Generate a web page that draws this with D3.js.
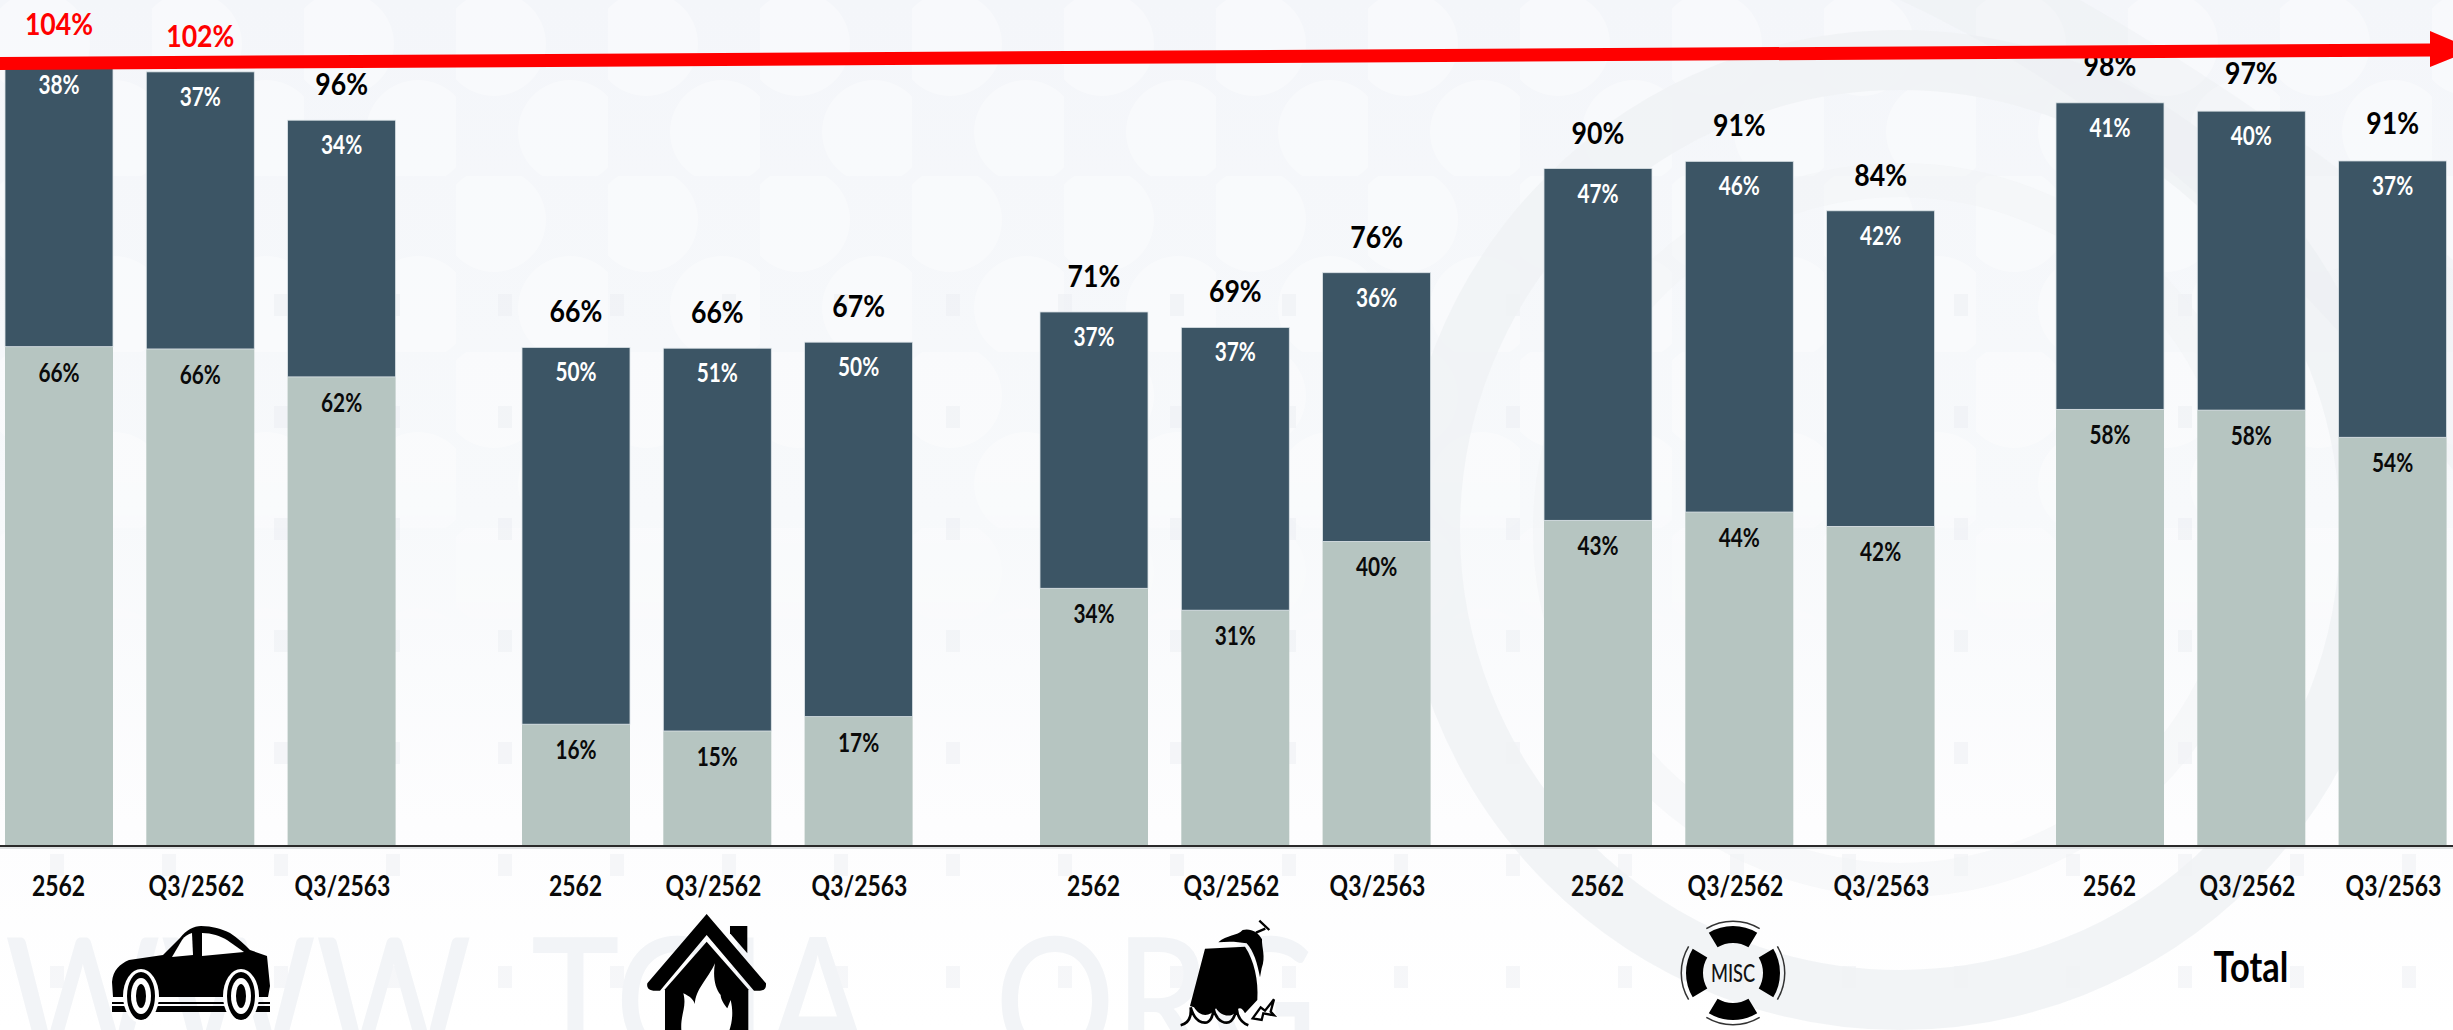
<!DOCTYPE html>
<html>
<head>
<meta charset="utf-8">
<script src="https://cdn.jsdelivr.net/npm/d3@7/dist/d3.min.js"></script>
<style>
html,body{margin:0;padding:0;background:#fff;overflow:hidden}
svg{display:block}
text{font-family:Lato,"Noto Sans",sans-serif}
</style>
</head>
<body>
<svg id="chart" width="2453" height="1030"></svg>
<script>
// Loss and expense ratios by line of business
const groups = ["Motor", "Fire", "Marine", "Misc", "Total"];
const periods = ["2562", "Q3/2562", "Q3/2563"];
const lossRatio = [66.0, 65.7, 62.0, 16.0, 15.1, 17.0, 34.0, 31.1, 40.2, 43.0, 44.1, 42.2, 57.7, 57.6, 54.0];
const expenseRatio = [38.0, 36.7, 34.0, 49.9, 50.7, 49.6, 36.6, 37.45, 35.6, 46.6, 46.45, 41.8, 40.6, 39.6, 36.6];
const totalLabel = "Total";
const watermarkWords = ["WWW", "TGIA", "ORG"];

const W = 2453, H = 1030, baseY = 845;
const svg = d3.select("#chart");
const defs = svg.append("defs");

const fmt = v => Math.round(v) + "%";
const y = d3.scaleLinear().domain([0, 100]).range([baseY, baseY - 755]);
const groupX = d3.scaleOrdinal().domain(groups).range([5, 522, 1040, 1544, 2056]);
const barW = 108, barStep = 141.3;

const rows = d3.range(lossRatio.length).map(i => {
  const g = groups[Math.floor(i / 3)], p = periods[i % 3];
  return { g, p, lower: lossRatio[i], upper: expenseRatio[i], total: lossRatio[i] + expenseRatio[i] };
});
const barLeft = d => groupX(d.g) + periods.indexOf(d.p) * barStep;

// --- backdrop ---------------------------------------------------------
const bgGrad = defs.append("linearGradient").attr("id", "bg").attr("x1", 0).attr("y1", 0).attr("x2", 0).attr("y2", 1);
bgGrad.append("stop").attr("offset", 0).attr("stop-color", "#f4f6fa");
bgGrad.append("stop").attr("offset", .5).attr("stop-color", "#f7f9fb");
bgGrad.append("stop").attr("offset", .8).attr("stop-color", "#fdfdfe");
bgGrad.append("stop").attr("offset", 1).attr("stop-color", "#ffffff");
svg.append("rect").attr("width", W).attr("height", H).attr("fill", "url(#bg)");

const dots = defs.append("pattern").attr("id", "dots").attr("patternUnits", "userSpaceOnUse")
  .attr("width", 152).attr("height", 176);
[[38, 44], [114, 132]].forEach(([cx, cy]) => {
  dots.append("circle").attr("cx", cx).attr("cy", cy).attr("r", 52).attr("fill", "#ffffff").attr("opacity", .36);
});
const fadeGrad = defs.append("linearGradient").attr("id", "fade").attr("x1", 0).attr("y1", 0).attr("x2", 0).attr("y2", 1);
fadeGrad.append("stop").attr("offset", 0).attr("stop-color", "#fff");
fadeGrad.append("stop").attr("offset", .45).attr("stop-color", "#fff");
fadeGrad.append("stop").attr("offset", .7).attr("stop-color", "#000");
defs.append("mask").attr("id", "fadeMask").append("rect").attr("width", W).attr("height", H).attr("fill", "url(#fade)");
svg.append("rect").attr("width", W).attr("height", H).attr("fill", "url(#dots)").attr("mask", "url(#fadeMask)");

// faint square studs below the circle field
const studs = defs.append("pattern").attr("id", "studs").attr("patternUnits", "userSpaceOnUse")
  .attr("width", 112).attr("height", 112).attr("y", 20);
studs.append("rect").attr("x", 50).attr("y", 50).attr("width", 14).attr("height", 22).attr("fill", "#e9ecf1").attr("opacity", .4);
svg.append("rect").attr("y", 240).attr("width", W).attr("height", H - 240).attr("fill", "url(#studs)");

// large ring emblem behind the bars
const emblem = svg.append("g").attr("transform", "translate(1900,530)").attr("fill", "none");
emblem.append("circle").attr("r", 470).attr("stroke", "#f0f2f5").attr("stroke-width", 60).attr("opacity", .85);
emblem.append("circle").attr("r", 350).attr("stroke", "#f1f3f6").attr("stroke-width", 34).attr("opacity", .5);
svg.append("path").attr("d", "M1900 0 C2050 70 2250 200 2453 470 L2453 260 C2300 130 2150 40 2080 0 Z")
  .attr("fill", "#e9ecf0").attr("opacity", .3);

// web address watermark along the lower edge
const wm = svg.append("g").attr("fill", "#f2f4f7").attr("font-size", 176).attr("font-weight", 500);
[[5, 0], [531, 1], [995, 2]].forEach(([x, i]) =>
  wm.append("text").attr("transform", `translate(${x},1064) scale(.85,1)`).text(watermarkWords[i]));

// --- stacked bars ------------------------------------------------------
const bars = svg.append("g").selectAll("g").data(rows).join("g");
bars.append("rect").attr("x", barLeft).attr("width", barW)
  .attr("y", d => y(d.lower)).attr("height", d => y(0) - y(d.lower))
  .attr("fill", "#b6c5c1");
bars.append("rect").attr("x", barLeft).attr("width", barW)
  .attr("y", d => y(d.total)).attr("height", d => y(d.lower) - y(d.total))
  .attr("fill", "#3c5565").attr("stroke", "#dde4e8").attr("stroke-width", .8);

// Labels are narrowed horizontally around their own anchor point
function barLabel(xf, yf, txt, size, sx, fill) {
  return bars.append("text").attr("text-anchor", "middle")
    .attr("transform", d => `translate(${xf(d)},${yf(d)}) scale(${sx},1)`)
    .attr("font-size", size).attr("font-weight", 700).attr("fill", fill).text(txt);
}
const barMid = d => barLeft(d) + barW / 2;
barLabel(barMid, d => y(d.lower) + 35, d => fmt(d.lower), 26, .8, "#0a0a0a");
barLabel(barMid, d => y(d.total) + 34, d => fmt(d.upper), 26, .8, "#ffffff");
barLabel(barMid, d => y(d.total) - (d.g === "Total" ? 27 : 25), d => fmt(d.total), 31, .86,
  d => d.total > 100 ? "#ff0000" : "#000000");

// --- baseline and period labels -----------------------------------------
svg.append("line").attr("x1", 0).attr("x2", W).attr("y1", baseY + 1).attr("y2", baseY + 1)
  .attr("stroke", "#2a2a2a").attr("stroke-width", 2);
svg.append("line").attr("x1", 0).attr("x2", W).attr("y1", baseY + 3).attr("y2", baseY + 3)
  .attr("stroke", "#d5d8da").attr("stroke-width", 1.5);

const tickScale = d3.scaleOrdinal().domain(periods).range([-1, 137, 283]);
groups.forEach(g => {
  const ax = svg.append("g").attr("transform", `translate(${groupX(g) + barW / 2},${baseY})`)
    .call(d3.axisBottom(tickScale).tickSize(0));
  ax.select(".domain").remove();
  ax.selectAll("text").attr("y", 51).attr("dy", 0)
    .attr("font-family", "Lato").attr("font-size", 28).attr("font-weight", 700).attr("fill", "#0a0a0a")
    .attr("transform", "scale(.82,1)");
});

// --- line-of-business icons ---------------------------------------------
const car = svg.append("g").attr("transform", "translate(110,926)");
car.append("path").attr("fill", "#000").attr("d",
  "M2 56 C3 44 10 38 19 34 L53 29 L70 12 C76 4 84 0 91 0 C102 0 112 3 120 7 C128 12 134 18 140 24 L157 30 L160 60 L158 71 L3 71 Z");
car.append("path").attr("fill", "#fff").attr("d", "M62 31 L72 14 C75 10 78 8 82 7 L83 29 Z");
car.append("path").attr("fill", "#fff").attr("d", "M92 7 C102 7 110 10 117 14 L134 26 L92 30 Z");
car.append("rect").attr("x", 2).attr("y", 76).attr("width", 158).attr("height", 2).attr("fill", "#000");
car.append("rect").attr("x", 2).attr("y", 80).attr("width", 158).attr("height", 6).attr("fill", "#000");
[31, 131].forEach(cx => {
  car.append("ellipse").attr("cx", cx).attr("cy", 70).attr("rx", 18).attr("ry", 27).attr("fill", "#fff");
  car.append("ellipse").attr("cx", cx).attr("cy", 70).attr("rx", 14).attr("ry", 24).attr("fill", "#000");
  car.append("ellipse").attr("cx", cx).attr("cy", 70).attr("rx", 10).attr("ry", 18).attr("fill", "#fff");
  car.append("ellipse").attr("cx", cx).attr("cy", 70).attr("rx", 5).attr("ry", 12).attr("fill", "#000");
});

const house = svg.append("g").attr("transform", "translate(600,900) scale(.3333)").attr("fill", "#000");
house.append("path").attr("d", "M320 42 L498 250 Q500 272 480 272 L462 272 L320 105 L180 272 L160 272 Q138 270 142 250 Z");
house.append("path").attr("d", "M390 78 L442 78 L442 160 L390 100 Z");
house.append("path").attr("d", "M320 125 L445 268 L445 400 L195 400 L195 268 Z");
house.append("path").attr("fill", "#fff").attr("d",
  "M245 400 C238 345 262 325 250 280 C268 288 280 298 285 312 C285 270 325 235 345 190 C338 230 345 265 362 285 C362 300 378 320 382 325 L392 300 C402 340 395 375 385 400 Z");

const ship = svg.append("g").attr("transform", "translate(1150,900) scale(.3333)");
ship.append("path").attr("fill", "#000").attr("d", "M165 146 L285 140 C312 180 326 240 322 300 L285 340 C275 320 265 322 258 335 C245 352 215 352 198 325 C180 352 150 352 132 322 L120 318 Z");
ship.append("path").attr("fill", "#000").attr("d", "M205 127 C230 104 262 108 278 90 C300 84 325 95 336 118 C335 145 348 170 335 205 L330 232 C322 190 312 155 290 130 C260 124 232 124 205 127 Z");
ship.append("path").attr("fill", "none").attr("stroke", "#000").attr("stroke-width", 7).attr("d",
  "M318 98 L346 86 M328 62 L358 90");
ship.append("path").attr("fill", "none").attr("stroke", "#000").attr("stroke-width", 8).attr("d",
  "M92 376 C115 370 125 350 122 322 C130 350 145 368 165 368 C180 368 190 350 190 325 C195 350 210 368 230 368 C245 368 255 350 260 325 C262 350 275 368 295 376");
ship.append("path").attr("fill", "none").attr("stroke", "#000").attr("stroke-width", 7).attr("d",
  "M308 355 L332 322 L345 332 L372 298 L362 335 L372 346 L340 340 L335 360 Z");

const buoy = svg.append("g").attr("transform", "translate(1733,973)");
const seg = d3.arc().innerRadius(30).outerRadius(47);
const ring = d3.arc().innerRadius(51).outerRadius(52.5);
[0, 90, 180, 270].forEach(a => {
  const s = (a - 31) * Math.PI / 180, e = (a + 31) * Math.PI / 180;
  buoy.append("path").attr("fill", "#000").attr("d", seg({ startAngle: s, endAngle: e }));
  buoy.append("path").attr("fill", "#333").attr("d", ring({ startAngle: s, endAngle: e }));
});
buoy.append("text").attr("text-anchor", "middle").attr("font-size", 24)
  .attr("font-weight", 500).attr("fill", "#111").attr("transform", "translate(0,9) scale(.76,1)").text("MISC");

svg.append("text").attr("text-anchor", "middle").attr("font-size", 42).attr("font-weight", 700)
  .attr("fill", "#000").attr("transform", "translate(2251,982) scale(.82,1)").text(totalLabel);

// --- trend arrow, drawn over the bars -------------------------------------
const arrow = svg.append("g").attr("fill", "#ff0000");
arrow.append("path").attr("d", "M0 57 L2432 43.5 L2432 56.5 L0 70 Z");
arrow.append("path").attr("d", "M2430 31 L2474 49.5 L2430 67 Z");
</script>
</body>
</html>
